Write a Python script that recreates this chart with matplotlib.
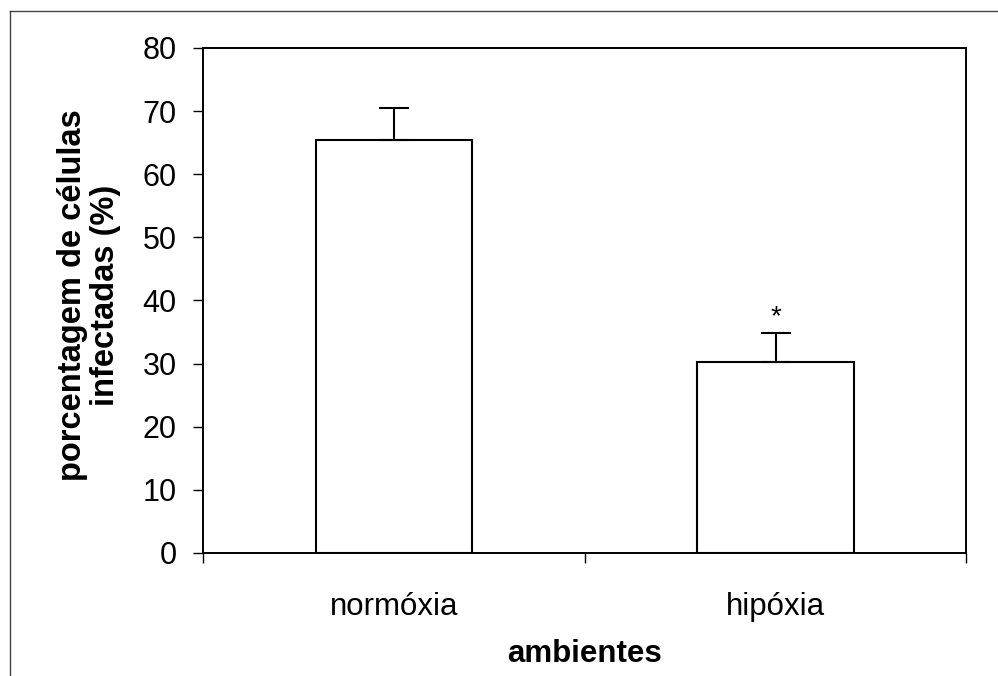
import matplotlib
matplotlib.use("Agg")
import matplotlib.pyplot as plt
from matplotlib.lines import Line2D

# data
categories = ["normóxia", "hipóxia"]
means = [65.5, 30.2]
errors = [5.0, 4.6]
significant = [False, True]

plt.rcParams['font.family'] = ['Liberation Sans', 'DejaVu Sans']

fig = plt.figure(figsize=(9.98, 6.76), dpi=100)
ax = fig.add_axes([0.2034, 0.182, 0.765, 0.747])

x = list(range(len(categories)))
ax.bar(x, means, width=0.41, color='white', edgecolor='black', linewidth=1.5,
       zorder=2)
ax.errorbar(x, means, yerr=[[0] * len(errors), errors], fmt='none',
            ecolor='black', elinewidth=1.5, capsize=11, capthick=1.5, zorder=3)

for xi, m, e, s in zip(x, means, errors, significant):
    if s:
        ax.annotate('*', xy=(xi, m + e), xytext=(0, 2), textcoords='offset points',
                    ha='center', va='bottom', fontsize=20)

ax.set_xlim(-0.5, len(categories) - 0.5)
ax.set_ylim(0, 80)
ax.set_yticks(range(0, 81, 10))
ax.set_xticks([i - 0.5 for i in range(len(categories) + 1)])
ax.set_xticks(x, minor=True)
ax.set_xticklabels([])
ax.set_xticklabels(categories, minor=True, fontsize=22.5)
ax.tick_params(axis='x', which='minor', length=0, pad=28)
ax.tick_params(axis='x', which='major', direction='out', length=7, width=1)
ax.tick_params(axis='y', direction='out', length=7, width=1, labelsize=22, pad=12)

for sp in ax.spines.values():
    sp.set_linewidth(1.4)

ax.set_xlabel('ambientes', fontsize=22.5, fontweight='bold', labelpad=12)
ax.set_ylabel('porcentagem de células\ninfectadas (%)', fontsize=23.5,
              fontweight='bold', linespacing=1.05)
ax.yaxis.set_label_coords(-0.108, 0.51)

# scanned page frame
fig.add_artist(Line2D([0.010, 0.010], [0, 0.983], transform=fig.transFigure,
                      color='#444444', linewidth=1))
fig.add_artist(Line2D([0.010, 1.0], [0.983, 0.983], transform=fig.transFigure,
                      color='#444444', linewidth=1))

fig.savefig('out.png', dpi=100)
